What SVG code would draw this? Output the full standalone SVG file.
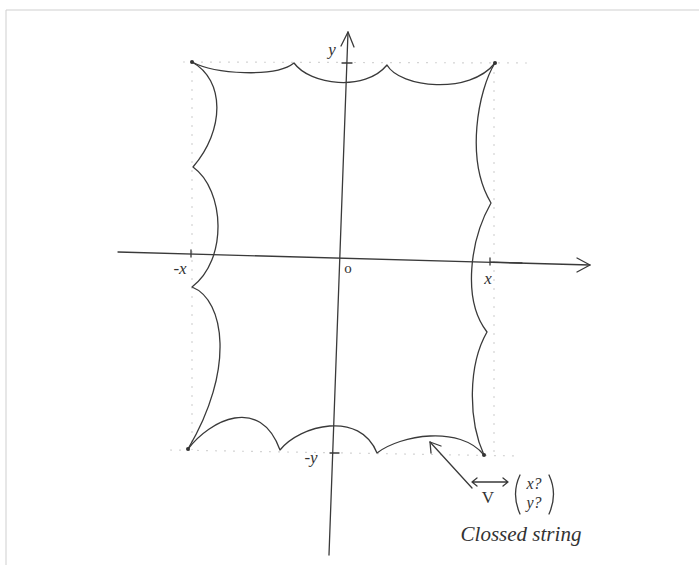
<svg xmlns="http://www.w3.org/2000/svg" width="699" height="565" viewBox="0 0 699 565">
<style>
.ink{fill:none;stroke:#3a3a3a;stroke-width:1.3;stroke-linecap:round;stroke-linejoin:round}
.guide{fill:none;stroke:#d4d4d4;stroke-width:1.2;stroke-dasharray:2 7}
.lbl{font-family:"Liberation Serif",serif;font-style:italic;fill:#333;font-size:17px;text-anchor:middle}
.dot{fill:#333}
</style>
<rect width="699" height="565" fill="#fff"/>
<path d="M6,565 L6,10 L699,10" fill="none" stroke="#cfcfcf" stroke-width="1"/>
<g id="guides">
<path class="guide" d="M183,62 L527,63"/>
<path class="guide" d="M192,62 L192,450"/>
<path class="guide" d="M494,63 L494,455"/>
<path class="guide" d="M170,450 L520,456"/>
</g>
<g id="connectors">
<path class="ink" d="M118,252 L590,265"/>
<path class="ink" d="M577,258 L590,265 L577,272"/>
<path class="ink" d="M329,555 L348,32"/>
<path class="ink" d="M341,46 L348,32 L354,47"/>
<path class="ink" d="M191,250 L191,257"/>
<path class="ink" d="M490,258 L490,265 M490,262 L522,263"/>
<path class="ink" d="M342,63 L352,63"/>
<path class="ink" d="M330,453 L339,453"/>
<path class="ink" d="M472,488 L430,442"/>
<path class="ink" d="M431,453 L430,442 L441,446"/>
</g>
<g id="string">
<path class="ink" d="M192,62 C215,74 275,78 294,63 C310,85 365,92 387,65 C400,88 470,95 495,63"/>
<path class="ink" d="M495,63 C478,90 465,160 491,203 C470,240 462,300 487,332 C468,365 468,420 484,455"/>
<path class="ink" d="M192,62 C225,80 225,130 193,167 C225,190 228,260 192,287 C225,300 235,370 188,449"/>
<path class="ink" d="M188,449 C210,420 260,395 280,450 C300,425 360,410 377,453 C400,435 460,425 484,455"/>
<circle class="dot" cx="192" cy="62" r="2"/>
<circle class="dot" cx="495" cy="63" r="2"/>
<circle class="dot" cx="188" cy="449" r="2"/>
<circle class="dot" cx="484" cy="455" r="2"/>
</g>
<g id="labels">
<text class="lbl" x="332" y="55">y</text>
<text class="lbl" x="348" y="273" style="font-style:normal;font-size:15px">o</text>
<text class="lbl" x="180" y="274">-x</text>
<text class="lbl" x="488" y="284">x</text>
<text class="lbl" x="311" y="463">-y</text>
</g>
<g id="note">
<path class="ink" d="M472,482 L508,482 M477,478 L472,482 L477,486 M503,478 L508,482 L503,486"/>
<text class="lbl" x="488" y="503" style="font-style:normal">V</text>
<path class="ink" d="M520,475 Q511,494 520,514"/>
<path class="ink" d="M549,475 Q558,494 549,514"/>
<text class="lbl" x="534" y="489" style="font-size:16px">x?</text>
<text class="lbl" x="534" y="508" style="font-size:16px">y?</text>
<text class="lbl" x="521" y="541" style="font-size:21px">Clossed string</text>
</g>
</svg>
